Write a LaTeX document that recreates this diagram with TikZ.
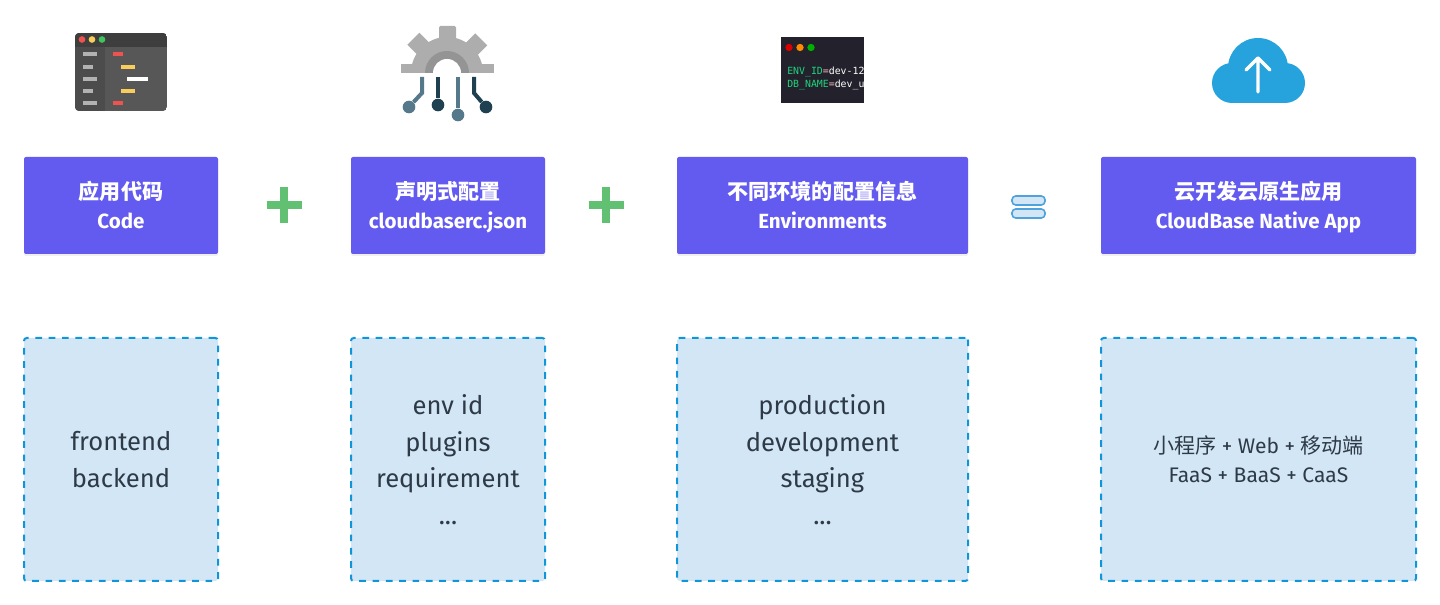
\documentclass[tikz,border=0pt]{standalone}
\usepackage{fontspec}
\setmainfont{Fira Sans}
\setmonofont{DejaVu Sans Mono}
\newfontfamily\cjk{Noto Sans CJK SC}
\usepackage{tikz}
\usetikzlibrary{positioning,shadows}

\definecolor{boxpurple}{HTML}{635AF0}
\definecolor{noteblue}{HTML}{D3E6F5}
\definecolor{dashblue}{HTML}{0F96D8}
\definecolor{equalblue}{HTML}{4FA3DC}
\definecolor{inktext}{HTML}{2E3A46}
\definecolor{plusgreen}{HTML}{62C073}
\definecolor{cloudblue}{HTML}{26A3DC}
\definecolor{gearteal}{HTML}{55798A}
\definecolor{geardark}{HTML}{1F4050}
\definecolor{wintitle}{HTML}{3E3E3E}
\definecolor{winside}{HTML}{4C4C4C}
\definecolor{winbody}{HTML}{575757}
\definecolor{winred}{HTML}{EF5350}
\definecolor{winyellow}{HTML}{F8CD5A}
\definecolor{wingreen}{HTML}{3FC45E}
\definecolor{termback}{HTML}{22212C}
\definecolor{termgreen}{HTML}{1FD47E}

\newcommand{\titlelines}[2]{{\cjk\fontsize{15.8}{21.75}\selectfont\rule{0pt}{16pt}#1}\\#2\vphantom{p}}

\tikzset{
	titlebox/.style={draw=none, fill=boxpurple, text=white, rounded corners=1.5pt, align=center, outer sep=0pt,
		minimum height=72.75pt, font=\bfseries\fontsize{15.4}{21.75}\selectfont,
		drop shadow={shadow xshift=0pt, shadow yshift=-1.5pt, opacity=0.12}},
	notebox/.style={draw=dashblue, fill=noteblue, dashed, dash pattern=on 5pt off 5pt, line width=1.5pt, rounded corners=2pt,
		text=inktext, align=center, outer sep=0pt, minimum height=182.25pt, font=\fontsize{19.2}{27.4}\selectfont},
	narrow/.style={minimum width=145.5pt},
	middle/.style={minimum width=218.25pt},
	wide/.style={minimum width=236.25pt},
	plusbar/.style={draw=plusgreen, line width=5.4pt},
	equalbar/.style={draw=equalblue, fill=noteblue, line width=1.2pt, rounded corners=2.8pt},
	wire/.style={line width=3pt},
	dot/.style={circle, inner sep=0pt, minimum size=9.5pt},
	lamp/.style={dot, minimum size=5pt},
	termline/.style={anchor=west, inner sep=0pt, font=\ttfamily\fontsize{7.4}{8}\selectfont, text=white}
}

\begin{document}
\begin{tikzpicture}[x=0.75pt, y=-0.75pt, node distance=63pt and 99.75pt]
	\useasboundingbox (0,0) rectangle (1440,605);

	% Code window icon
	\begin{scope}
		\clip [rounded corners=3pt] (75,33) rectangle (167,111);
		\fill [winbody] (75,33) rectangle (167,111);
		\fill [winside] (75,33) rectangle (105,111);
		\fill [wintitle] (75,33) rectangle (167,47);
	\end{scope}
	\node [lamp, fill=winred]		(w1) at (82,39.5) {};
	\node [lamp, fill=winyellow]	(w2) at (92,39.5) {};
	\node [lamp, fill=wingreen]		(w3) at (102,39.5) {};
	\foreach \y/\w in {54/14, 67/10, 79/14, 91/10, 103/14}
		\fill [black!30] (83,\y-2) rectangle ++(\w,4);
	\fill [winred]		(113,52) rectangle (123,56);
	\fill [winyellow]	(121,65) rectangle (135,69);
	\fill [white]		(127,77) rectangle (148,81);
	\fill [winyellow]	(121,89) rectangle (135,93);
	\fill [winred]		(113,101) rectangle (123,105);

	% Gear icon
	\begin{scope}
		\clip (395,20) rectangle (500,73);
		\fill [black!32] (447,73) circle (36);
		\fill [black!32, rotate around={-45:(447,73)}] (439,25) rectangle (456,60);
		\fill [black!32, rotate around={45:(447,73)}] (439,25) rectangle (456,60);
		\fill [black!32, rounded corners=1pt] (439,26) rectangle (456,60);
		\fill [black!32] (401,64) rectangle (494,73);
		\fill [black!42] (447,73) circle (22);
		\fill [white] (447,73) circle (14);
	\end{scope}
	\node [dot, fill=gearteal]	(g1) at (409,107) {};
	\node [dot, fill=geardark]	(g2) at (438,105) {};
	\node [dot, fill=gearteal]	(g3) at (458,115) {};
	\node [dot, fill=geardark]	(g4) at (486,107) {};
	\coordinate (t1) at (422,77);
	\coordinate (t2) at (438,77);
	\coordinate (t3) at (458,77);
	\coordinate (t4) at (474,77);
	\draw [wire, draw=gearteal]	(t1) -- ++(0,16) -- (g1);
	\draw [wire, draw=geardark]	(t2) -- (g2);
	\draw [wire, draw=gearteal]	(t3) -- (g3);
	\draw [wire, draw=geardark]	(t4) -- ++(0,16) -- (g4);

	% Terminal icon
	\fill [termback] (781,37) rectangle (864,103);
	\node [lamp, minimum size=5.5pt, fill=red!85!black]			(d1) at (789,47.5) {};
	\node [lamp, minimum size=5.5pt, fill=orange!90!yellow]		(d2) at (800,47.5) {};
	\node [lamp, minimum size=5.5pt, fill=green!70!black]		(d3) at (811,47.5) {};
	\begin{scope}
		\clip (781,37) rectangle (864,103);
		\node [termline] (envline) at (787,72) {\textcolor{termgreen}{ENV\_ID}\textcolor{pink}{=}dev-12};
		\node [termline] (dbline) at (787,85) {\textcolor{termgreen}{DB\_NAME}\textcolor{pink}{=}dev\_u};
	\end{scope}

	% Cloud icon
	\fill [cloudblue] (1258,68) circle (30);
	\fill [cloudblue] (1232,83) circle (20);
	\fill [cloudblue] (1285,83) circle (20);
	\fill [cloudblue] (1232,78) rectangle (1285,103);
	\coordinate (arrowtop) at (1258,58);
	\coordinate (arrowend) at (1258,92);
	\coordinate (arrowl) at (1246,70);
	\coordinate (arrowr) at (1270,70);
	\draw [white, line width=2.6pt, line cap=round, line join=round] (arrowend) -- (arrowtop) (arrowl) -- (arrowtop) -- (arrowr);

	% Title boxes
	\node [titlebox, narrow]	(code) at (121,205.5)		{\titlelines{应用代码}{Code}};
	\node [titlebox, narrow]	(conf) [right=of code]		{\titlelines{声明式配置}{cloudbaserc.json}};
	\node [titlebox, middle]	(envs) [right=99pt of conf]	{\titlelines{不同环境的配置信息}{Environments}};
	\node [titlebox, wide]		(app) [right=of envs]		{\titlelines{云开发云原生应用}{CloudBase Native App}};

	% Note boxes
	\node [notebox, narrow]	(codenote) [below=of code]	{frontend\\backend};
	\node [notebox, narrow]	(confnote) [below=of conf]	{env id\\plugins\\requirement\\...};
	\node [notebox, middle]	(envsnote) [below=of envs]	{production\\development\\staging\\...};
	\node [notebox, wide, font=\fontsize{15.8}{21.75}\selectfont]	(appnote) [below=of app]
		{{\cjk 小程序} + Web + {\cjk 移动端}\\FaaS + BaaS + CaaS};

	% Operators
	\draw [plusbar] (266.5,205) -- (302,205) (284,187) -- (284,223);
	\draw [plusbar] (588.5,205) -- (624,205) (606,187) -- (606,223);
	\draw [equalbar] (1012,196) rectangle (1045,205);
	\draw [equalbar] (1012,209) rectangle (1045,218);
\end{tikzpicture}
\end{document}
